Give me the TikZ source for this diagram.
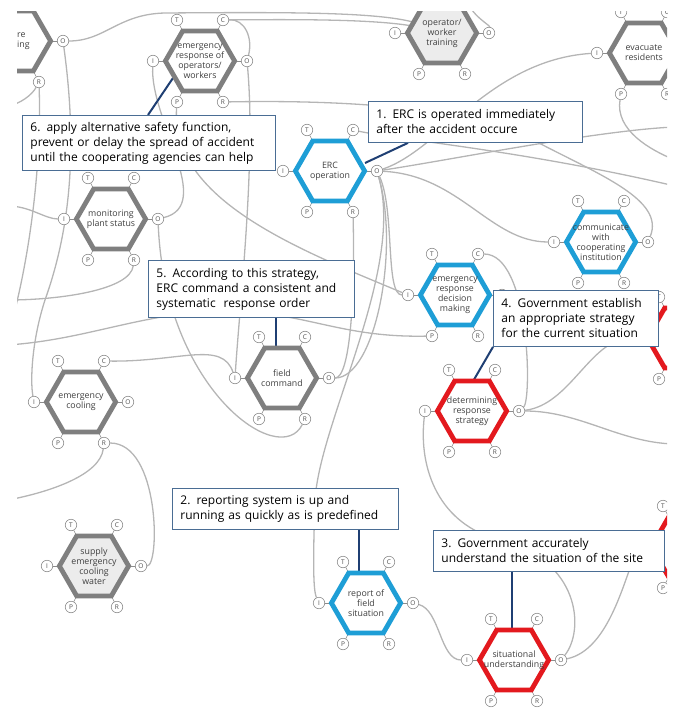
\documentclass[tikz,border=0pt]{standalone}
\usepackage{fontspec}
\setmainfont{Open Sans}
\usepackage{tikz}
\usetikzlibrary{backgrounds}
\definecolor{fngray}{HTML}{7F7F7F}
\definecolor{fnblue}{HTML}{1E9ED6}
\definecolor{fnred}{HTML}{E3191E}
\definecolor{fnbg}{HTML}{ECECEC}
\definecolor{linkc}{HTML}{B5B5B5}
\definecolor{portc}{HTML}{8C8C8C}
\definecolor{lblc}{HTML}{404040}
\definecolor{notec}{HTML}{4A6D94}
\definecolor{ptrc}{HTML}{1F3F73}
\tikzset{
  hexc/.style={draw=fngray,fill=white},
  blfn/.style={hexc/.style={draw=fnblue,fill=white}},
  rdfn/.style={hexc/.style={draw=fnred,fill=white}},
  bgfn/.style={hexc/.style={draw=fngray,fill=fnbg}},
  lblshift/.style={},
  fnlbl/.style={align=center,inner sep=0pt,text=lblc,font=\fontsize{8.8}{10}\selectfont},
  port/.style={circle,draw=portc,fill=white,line width=0.6pt,inner sep=0pt,minimum size=11.5pt,text=black!70,font=\fontsize{6.5}{7}\selectfont},
  stub/.style={draw=portc,line width=0.6pt},
  fn/.pic={
    \foreach \x/\y/\cx/\cy in {-23/-41/-17.3/-30,23/-41/17.3/-30,-47/0/-34.6/0,47/0/34.6/0,-23/41/-17.3/30,23/41/17.3/30}
      \draw[stub] (\cx,\cy) -- (\x,\y);
    \draw[hexc,line width=4.8pt] (-34.6,0) -- (-17.3,-30) -- (17.3,-30) -- (34.6,0) -- (17.3,30) -- (-17.3,30) -- cycle;
    \node[fnlbl,lblshift] (-f) at (0,0) {#1};
    \foreach \p/\x/\y in {T/-23/-41,C/23/-41,I/-47/0,O/47/0,P/-23/41,R/23/41}
      \node[port] (-\p) at (\x,\y) {\p};
  },
  lk/.style={draw=linkc,line width=1.3pt},
  ptr/.style={draw=ptrc,line width=2pt},
  note/.style={draw=notec,fill=white,line width=0.9pt,anchor=north west,align=left,inner xsep=8pt,inner ysep=0pt,font=\fontsize{12}{15}\selectfont},
}

\begin{document}
\begin{tikzpicture}[x=1pt,y=-1pt]
  \useasboundingbox (0,0) rectangle (687,719);
  \clip (17,12) rectangle (667,719);
  % functions
  \pic[lblshift/.style={anchor=west,align=left,xshift=1pt}] (ftr) at (16,41) {fn={re\\ing}};
  \pic (erp) at (200,61) {fn={emergency\\response of\\operators/\\workers}};
  \pic[bgfn] (owt) at (442,33) {fn={operator/\\worker\\training}};
  \pic (evr) at (644,53) {fn={evacuate\\residents}};
  \pic[blfn] (erc) at (330,171) {fn={ERC\\operation}};
  \pic (mps) at (111,219) {fn={monitoring\\plant status}};
  \pic[blfn] (cci) at (601,242) {fn={communicate\\with\\cooperating\\institution}};
  \pic[blfn] (erd) at (455,295) {fn={emergency\\response\\decision\\making}};
  \pic (fc) at (282,378) {fn={field\\command}};
  \pic (ec) at (81,402) {fn={emergency\\cooling}};
  \pic[rdfn] (drs) at (472,411) {fn={determining\\response\\strategy}};
  \pic[rdfn] (rd1) at (682,338) {fn={}};
  \pic[bgfn] (secw) at (94,566) {fn={supply\\emergency\\cooling\\water}};
  \pic[blfn] (rfs) at (366,603) {fn={report of\\field\\situation}};
  \pic[rdfn] (su) at (514,660) {fn={situational\\understanding}};
  \pic[rdfn] (rd2) at (686,547) {fn={}};
  % notes
  \node[note,text width=237pt,minimum height=55pt] (st6) at (22,115) {6. apply alternative safety function,\\prevent or delay the spread of accident\\until the cooperating agencies can help};
  \node[note,text width=198pt,minimum height=41pt] (st1) at (368,101) {1. ERC is operated immediately\\after the accident occure};
  \node[note,text width=190pt,minimum height=57pt] (st5) at (148,260) {5. According to this strategy,\\ERC command a consistent and\\systematic\ \ response order};
  \node[note,text width=149pt,minimum height=56pt] (st4) at (493,290) {4. Government establish\\an appropriate strategy\\for the current situation};
  \node[note,text width=210pt,minimum height=41pt] (st2) at (172,488) {2. reporting system is up and\\running as quickly as is predefined};
  \node[note,text width=215pt,minimum height=41pt] (st3) at (433,530) {3. Government accurately\\understand the situation of the site};
  \begin{scope}[on background layer]
    \clip (17,12) rectangle (667,719);
    \coordinate (w1) at (8,106);
    \coordinate (w2) at (8,335);
    \coordinate (w3) at (8,206);
    \coordinate (w4) at (8,300);
    \coordinate (w5) at (8,345);
    \coordinate (w6) at (8,500);
    \coordinate (e1) at (675,127);
    \coordinate (e2) at (675,186);
    \coordinate (e3) at (675,160);
    \coordinate (e4) at (675,444);
    % couplings
    \draw[lk] (ftr-O) .. controls (105,41) and (118,14) .. (165,13) .. controls (300,12) and (390,12) .. (owt-f);
    \draw[lk] (erp-C) .. controls (320,19) and (390,20) .. (owt-f);
    \draw[lk] (owt-O) .. controls (490,25) and (470,15) .. (owt-C);
    \draw[lk] (erp-C) .. controls (245,19) and (253,38) .. (erp-O);
    \draw[lk] (erp-O) .. controls (256,160) and (240,300) .. (fc-I);
    \draw[lk] (ec-C) .. controls (180,362) and (222,340) .. (fc-I);
    \draw[lk] (ftr-O) .. controls (78,150) and (70,230) .. (45,300) .. controls (32,340) and (30,380) .. (ec-I);
    \draw[lk] (ftr-R) .. controls (32,95) and (20,104) .. (w1);
    \draw[lk] (ftr-R) .. controls (42,180) and (25,280) .. (w2);
    \draw[lk] (w3) .. controls (30,206) and (45,219) .. (mps-I);
    \draw[lk] (mps-R) .. controls (130,290) and (60,300) .. (w4);
    \draw[lk] (w5) .. controls (80,340) and (130,318) .. (200,312) .. controls (300,306) and (330,338) .. (erd-P);
    \draw[lk] (mps-O) .. controls (215,205) and (150,120) .. (erp-I);
    \draw[lk] (mps-O) .. controls (165,390) and (280,470) .. (fc-R);
    \draw[lk] (ec-R) .. controls (100,475) and (50,492) .. (w6);
    \draw[lk] (ec-R) .. controls (160,443) and (160,566) .. (secw-O);
    \draw[lk] (erc-C) .. controls (400,140) and (520,150) .. (e2);
    \draw[lk] (erp-R) .. controls (330,100) and (470,105) .. (537,142) .. controls (600,175) and (665,200) .. (cci-O);
    \draw[lk] (erc-O) .. controls (440,150) and (490,60) .. (evr-I);
    \draw[lk] (erc-O) .. controls (450,160) and (600,130) .. (e1);
    \draw[lk] (evr-P) .. controls (615,130) and (650,150) .. (e3);
    \draw[lk] (erc-O) .. controls (460,175) and (490,242) .. (cci-I);
    \draw[lk] (erc-O) .. controls (395,210) and (385,295) .. (erd-I);
    \draw[lk] (erc-O) .. controls (405,270) and (320,420) .. (315,500) .. controls (313,560) and (313,590) .. (rfs-I);
    \draw[lk] (erc-R) .. controls (355,300) and (350,378) .. (fc-O);
    \draw[lk] (erc-O) .. controls (400,250) and (375,378) .. (fc-O);
    \draw[lk] (erp-P) .. controls (170,200) and (300,250) .. (erd-I);
    \draw[lk] (erd-C) .. controls (530,254) and (532,400) .. (drs-O);
    \draw[lk] (drs-O) .. controls (570,405) and (590,340) .. (rd1-I);
    \draw[lk] (drs-O) .. controls (580,411) and (620,443) .. (e4);
    \draw[lk] (su-O) .. controls (585,630) and (580,560) .. (500,540) .. controls (440,525) and (418,470) .. (drs-I);
    \draw[lk] (su-O) .. controls (610,650) and (625,575) .. (rd2-I);
    \draw[lk] (rfs-O) .. controls (440,610) and (440,660) .. (su-I);
    % callouts
    \draw[ptr] ([xshift=126pt]st6.north west) -- ([xshift=-27pt,yshift=-17pt]erp-f.center);
    \draw[ptr] ([xshift=40pt]st1.south west) -- ([xshift=35pt,yshift=8pt]erc-f.center);
    \draw[ptr] ([xshift=128pt]st5.south west) -- ([xshift=-6pt,yshift=28pt]fc-f.center);
    \draw[ptr] (st4.south west) -- ([yshift=28pt]drs-f.center);
    \draw[ptr] ([xshift=187pt]st2.south west) -- ([xshift=-7pt,yshift=28pt]rfs-f.center);
    \draw[ptr] ([xshift=79pt]st3.south west) -- ([xshift=-2pt,yshift=28pt]su-f.center);
  \end{scope}
\end{tikzpicture}
\end{document}
